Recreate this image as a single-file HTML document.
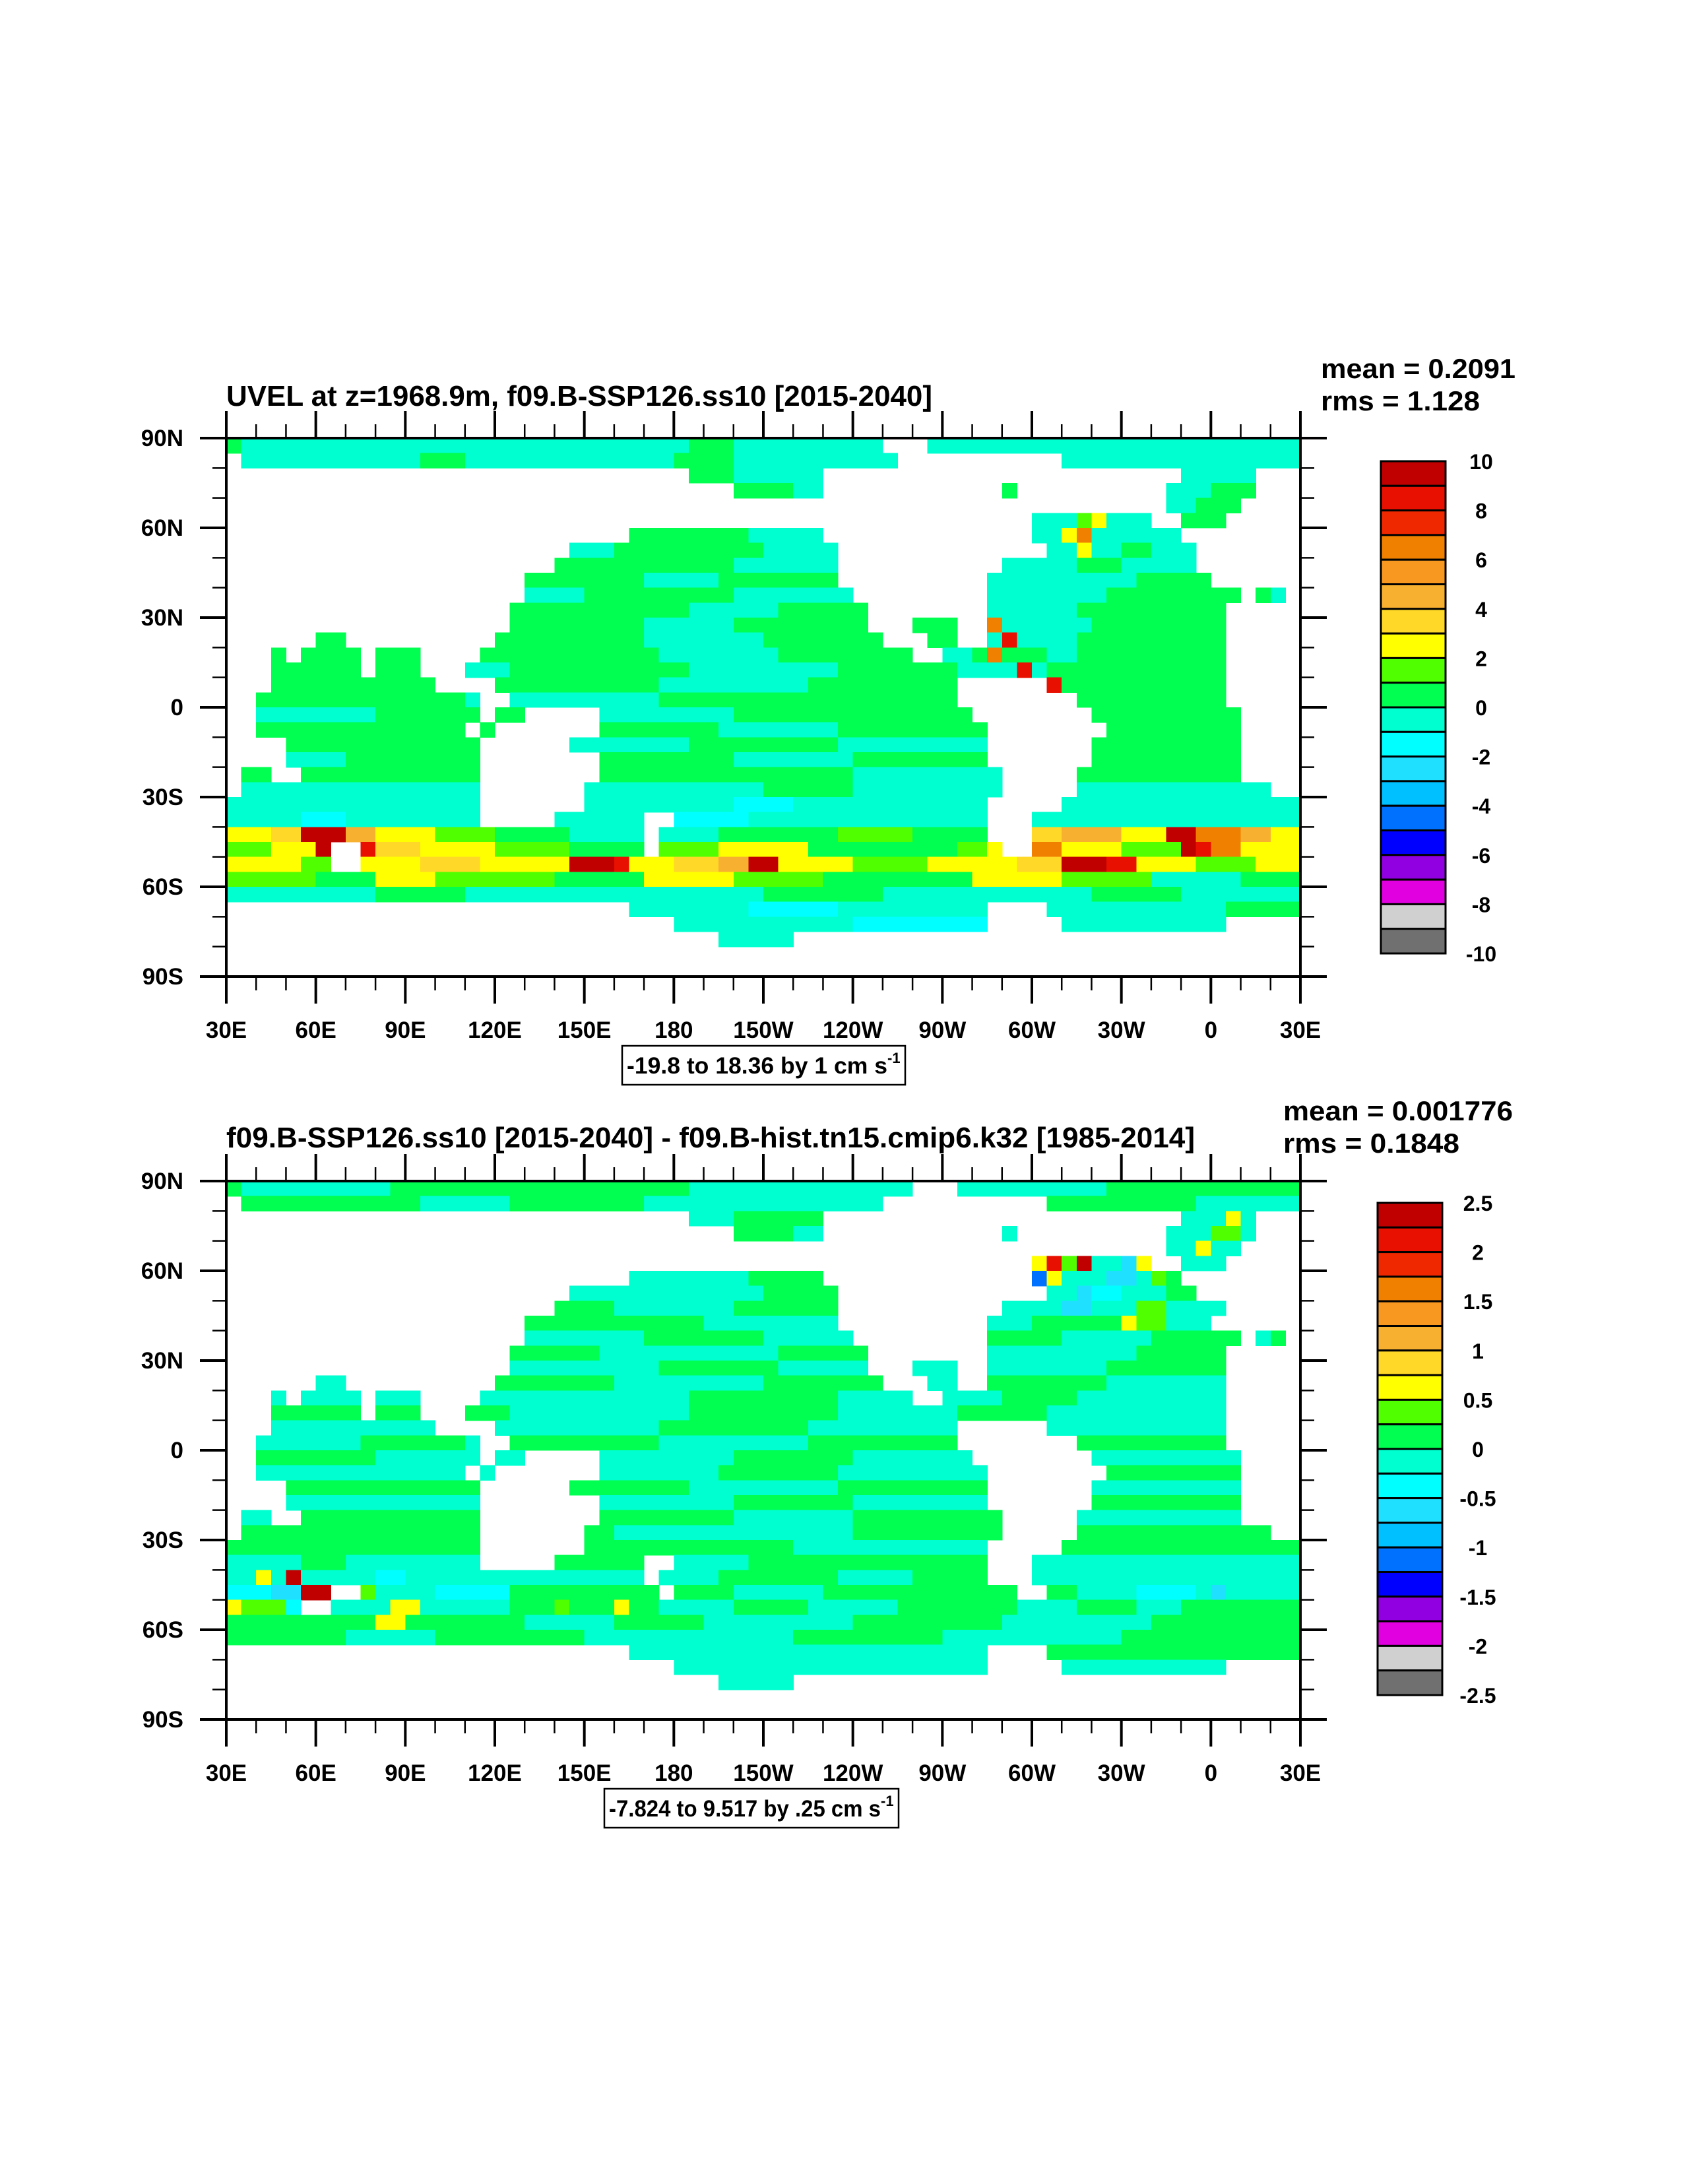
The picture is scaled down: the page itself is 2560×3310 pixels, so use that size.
<!DOCTYPE html>
<html><head><meta charset="utf-8"><title>UVEL maps</title>
<style>
html,body{margin:0;padding:0;background:#fff;}
svg{display:block;}
text{font-family:"Liberation Sans",Arial,sans-serif;font-weight:bold;fill:#000;}
</style></head>
<body>
<svg id="fig" xmlns="http://www.w3.org/2000/svg" width="2560" height="3310" viewBox="0 0 2560 3310">
<rect x="0" y="0" width="2560" height="3310" fill="#fff"/>
</svg>
<script>
// ---- data ----
const levelColors = ["#c00000","#e81000","#f02800","#f08000","#f89820","#f8b030","#ffd828","#ffff00","#50ff00","#00ff50","#00ffd0","#00ffff","#20e0ff","#00c0ff","#0070ff","#0000ff","#9000e0","#e000e0","#d0d0d0","#707070"];
const codeLevel = {R:0,r:1,O:3,o:5,Y:6,y:7,l:8,g:9,a:10,c:11,b:12,B:14};
const xTickLabels = ["30E","60E","90E","120E","150E","180","150W","120W","90W","60W","30W","0","30E"];
const yTickLabels = ["90N","60N","30N","0","30S","60S","90S"];
const cbLabelsTop = ["10","8","6","4","2","0","-2","-4","-6","-8","-10"];
const cbLabelsBottom = ["2.5","2","1.5","1","0.5","0","-0.5","-1","-1.5","-2","-2.5"];
const topGrid = [
"g1 a30 g3 a10 .3 a25",
".1 a12 g3 a14 g4 a11 .11 a16",
".31 g3 a6 .24 a5 .3",
".34 g4 a2 .12 g1 .10 a3 g3 .3",
".63 a2 g3 .4",
".54 a3 l1 y1 a3 .2 g3 .5",
".27 g8 a5 .14 a2 y1 O1 a6 .8",
".23 a3 g10 a5 .14 a2 y1 a2 g2 a3 .7",
".22 g12 a7 .11 a5 g3 a5 .7",
".20 g8 a5 g8 .10 a10 g5 .6",
".20 a4 g10 a8 .9 a8 g8 g1 .1 g1 a1 .1",
".19 g12 a6 g6 .8 a6 g10 .5",
".19 g9 a6 g9 .3 g3 .2 O1 a6 g9 .5",
".6 g2 .10 g10 a8 g8 .3 g2 .2 a1 r1 a4 g10 .5",
".3 g1 .1 g4 .1 g3 .4 g12 a8 g9 .2 a2 g1 O1 g3 a2 g10 .5",
".3 g6 .1 g3 .3 a3 g12 a10 g8 a4 r1 a1 g12 .5",
".3 g11 .4 g11 a10 g10 .6 r1 g11 .5",
".2 g14 a1 .2 a10 g10 g10 .8 g10 .5",
".2 a8 g7 .1 g2 .5 a9 g10 g6 .8 g10 .4",
".2 g14 .1 g1 .7 g8 a8 g10 .8 g9 .4",
".4 g13 .6 a8 g10 a10 .7 g10 .4",
".4 a4 g9 .8 g9 a8 g9 .7 g10 .4",
".1 g2 .2 g12 .8 g9 g8 a10 .5 g11 .4",
".1 a16 .7 a2 a10 g6 a10 .5 a13 .2",
"a17 .7 a10 c4 a13 .5 a16",
"a5 c3 a9 .5 a6 .2 c5 a16 .3 a18",
"y3 Y2 R3 o2 y4 l4 g5 a5 .1 a4 g8 l5 g5 .3 Y2 o4 y3 R2 O3 o2 y2",
"l3 y3 R1 .2 r1 Y3 y5 l5 g5 .1 l4 y6 g10 l2 y1 .2 O2 y4 l4 R1 r1 O2 y4",
"y5 l2 .2 y4 Y4 y6 R3 r1 y3 Y3 o2 R2 y5 l5 y6 Y3 R3 r2 y4 l4 y3",
"l6 g4 y4 l8 g6 y6 l6 g10 y6 l6 a6 g4",
"a10 g6 a20 g8 a14 g6 a8",
".27 a8 c6 a10 .4 a12 g5",
".30 a12 c9 .5 a11 .5",
".33 a5 .34",
".72",
".72"
];
const bottomGrid = [
"g1 a10 g20 a15 .3 a10 g13",
".1 g12 a6 g9 a9 a7 .11 g10 a7",
".31 a3 g6 .24 a3 y1 a1 .3",
".34 g4 a2 .12 a1 .10 a3 l2 a1 .3",
".63 a2 y1 a2 .4",
".54 y1 r1 l1 R1 a2 b1 y1 .2 a3 .5",
".27 a8 g5 .14 B1 y1 a3 b2 a1 l1 g1 .8",
".23 a8 a5 g5 .14 a2 b1 c2 a3 g2 .7",
".22 g4 a8 g7 .11 a4 b2 a3 l2 a4 .7",
".20 g12 a9 .10 a3 g6 y1 l2 a3 .6",
".20 a8 g8 a6 .9 g5 a6 g5 g1 .1 a1 g1 .1",
".19 g6 a12 g6 .8 a10 g6 .5",
".19 a10 g8 a6 .3 a3 .2 a8 g8 .5",
".6 a2 .10 g8 a10 g8 .3 a2 .2 g8 a8 .5",
".3 a1 .1 a4 .1 a3 .4 a14 g10 a5 .2 a4 g5 a10 .5",
".3 g6 .1 g3 .3 g3 a12 g10 a8 g6 a12 .5",
".3 a11 .4 a11 g10 a10 .6 a12 .5",
".2 a7 g7 a1 .2 g10 a10 g10 .8 g10 .5",
".2 g8 a7 .1 a2 .5 a9 g8 a8 .8 a10 .4",
".2 a14 .1 a1 .7 a8 g8 a10 .8 g9 .4",
".4 g13 .6 g8 a10 g10 .7 a10 .4",
".4 a4 a9 .8 a9 g8 a9 .7 g10 .4",
".1 a2 .2 g12 .8 g9 a8 g10 .5 a11 .4",
".1 g16 .7 g2 a10 a6 g10 .5 g13 .2",
"g17 .7 g10 g4 a13 .5 g16",
"a5 g3 a9 .5 g6 .2 a5 g16 .3 a18",
"a2 y1 a1 R1 a5 c2 a16 .1 a4 g8 a5 g5 .3 a18",
"c3 b2 R2 .2 l1 a4 c5 g5 g5 .1 g4 a6 g10 g2 g1 .2 g2 a4 c4 a1 b1 a2 a3",
"y1 l3 c1 .2 a4 y2 a6 g3 l1 g3 y1 g2 a5 g5 a6 g3 g3 g2 a4 g4 a3 g8",
"g10 y2 g8 a6 g6 a10 g10 a10 g10",
"g8 a6 g10 a14 g10 a12 g12",
".27 a8 a6 a10 .4 g12 g5",
".30 a12 a9 .5 a11 .5",
".33 a5 .34",
".72",
".72"
];

// ---- drawing ----
const NS = "http://www.w3.org/2000/svg";
const svg = document.getElementById("fig");
function mk(tag, attrs, parent){
  const e = document.createElementNS(NS, tag);
  for (const k in attrs) e.setAttribute(k, attrs[k]);
  (parent||svg).appendChild(e);
  return e;
}
function decode(row){
  let s = "";
  row.trim().split(/\s+/).forEach(t => { s += t[0].repeat(parseInt(t.slice(1),10)); });
  while (s.length < 72) s += ".";
  return s.slice(0,72);
}
const PX0 = 343, PX1 = 1971, PH = 816;
function xLon(i){ return PX0 + i*(PX1-PX0)/360; }
function yLat(top, lat){ return top + (90-lat)*PH/180; }

function drawPanel(cfg){
  const top = cfg.top, bot = top + PH;
  const g = mk("g", {});
  
  
  const cells = mk("g", {"shape-rendering":"crispEdges"}, g);
  
  
  const nr = cfg.grid.length;
  cfg.grid.forEach((row, r) => {
    const s = decode(row);
    const lat0 = 90 - r*180/nr, lat1 = 90 - (r+1)*180/nr;
    for (let c = 0; c < 72; c++){
      const ch = s[c];
      if (!(ch in codeLevel)) continue;
      const x0 = xLon(c*5), x1 = xLon((c+1)*5);
      const y0 = yLat(top, lat0), y1 = yLat(top, lat1);
      const rc = mk("rect", {x:x0.toFixed(1), y:y0.toFixed(1), width:(x1-x0+0.6).toFixed(1), height:(y1-y0+0.6).toFixed(1), fill:levelColors[codeLevel[ch]]}, cells);
      
      
    }
  });
  const ax = mk("g", {stroke:"#000", "stroke-linecap":"butt"}, g);
  
  
  for (let d = 0; d <= 360; d += 10){
    const x = xLon(d), major = d % 30 === 0, L = major ? 41 : 21, w = major ? 4 : 2.5;
    mk("line", {x1:x, y1:top, x2:x, y2:top-L, "stroke-width":w}, ax);
    mk("line", {x1:x, y1:bot, x2:x, y2:bot+L, "stroke-width":w}, ax);
  }
  for (let lat = -90; lat <= 90; lat += 10){
    const y = yLat(top, lat), major = lat % 30 === 0, L = major ? 40 : 21, w = major ? 4 : 2.5;
    mk("line", {x1:PX0, y1:y, x2:PX0-L, y2:y, "stroke-width":w}, ax);
    mk("line", {x1:PX1, y1:y, x2:PX1+L, y2:y, "stroke-width":w}, ax);
  }
  const fr = mk("rect", {x:PX0, y:top, width:PX1-PX0, height:PH, fill:"none", stroke:"#000", "stroke-width":4}, g);
  
  
  xTickLabels.forEach((t, i) => {
    const tx = mk("text", {x:xLon(i*30), y:bot+93, "font-size":35, "text-anchor":"middle"}, g);
    tx.textContent = t;
    
    
  });
  yTickLabels.forEach((t, i) => {
    const ty = mk("text", {x:278, y:yLat(top, 90-i*30)+12, "font-size":35, "text-anchor":"end"}, g);
    ty.textContent = t;
    
    
  });
  const tt = mk("text", {x:343, y:cfg.titleY, "font-size":44, textLength:cfg.titleW, lengthAdjust:"spacingAndGlyphs"}, g);
  tt.textContent = cfg.title;
  
  
  const m1 = mk("text", {x:cfg.statX, y:cfg.statY, "font-size":42, textLength:cfg.meanW, lengthAdjust:"spacingAndGlyphs"}, g);
  m1.textContent = cfg.mean;
  
  
  const m2 = mk("text", {x:cfg.statX, y:cfg.statY+49, "font-size":42, textLength:cfg.rmsW, lengthAdjust:"spacingAndGlyphs"}, g);
  m2.textContent = cfg.rms;
  
  
  const bx = mk("rect", {x:cfg.boxX0, y:bot+105, width:cfg.boxX1-cfg.boxX0, height:59, fill:"#fff", stroke:"#000", "stroke-width":2.5}, g);
  
  
  const bt = mk("text", {x:cfg.boxX0+7, y:bot+147, "font-size":35}, g);
  
  
  const main = mk("tspan", {textLength:cfg.rangeW, lengthAdjust:"spacingAndGlyphs"}, bt);
  main.textContent = cfg.range;
  const sup = mk("tspan", {"font-size":22, dy:-16}, bt);
  sup.textContent = "-1";
  const cb = mk("g", {}, g);
  
  
  const cbTop = cfg.cbTop, cbH = 746, bh = cbH/levelColors.length;
  levelColors.forEach((col, i) => {
    const b = mk("rect", {x:cfg.cbX, y:cbTop+i*bh, width:98, height:bh, fill:col, stroke:"#000", "stroke-width":3}, cb);
    
    
  });
  cfg.cbLabels.forEach((t, i) => {
    const lt = mk("text", {x:cfg.cbX+152, y:cbTop+i*2*bh+12, "font-size":32, "text-anchor":"middle"}, cb);
    lt.textContent = t;
    
    
  });
}

drawPanel({name:"top-panel", top:664, grid:topGrid, titleY:615, titleW:1070,
  title:"UVEL at z=1968.9m, f09.B-SSP126.ss10 [2015-2040]",
  statX:2002, statY:573, mean:"mean = 0.2091", rms:"rms = 1.128", meanW:295, rmsW:241,
  boxX0:943, boxX1:1372, range:"-19.8 to 18.36 by 1 cm s", rangeW:395,
  cbX:2093, cbTop:699, cbLabels:cbLabelsTop});
drawPanel({name:"bottom-panel", top:1790, grid:bottomGrid, titleY:1739, titleW:1468,
  title:"f09.B-SSP126.ss10 [2015-2040] - f09.B-hist.tn15.cmip6.k32 [1985-2014]",
  statX:1945, statY:1698, mean:"mean = 0.001776", rms:"rms = 0.1848", meanW:348, rmsW:267,
  boxX0:916, boxX1:1362, range:"-7.824 to 9.517 by .25 cm s", rangeW:412,
  cbX:2088, cbTop:1823, cbLabels:cbLabelsBottom});
</script>
</body></html>
